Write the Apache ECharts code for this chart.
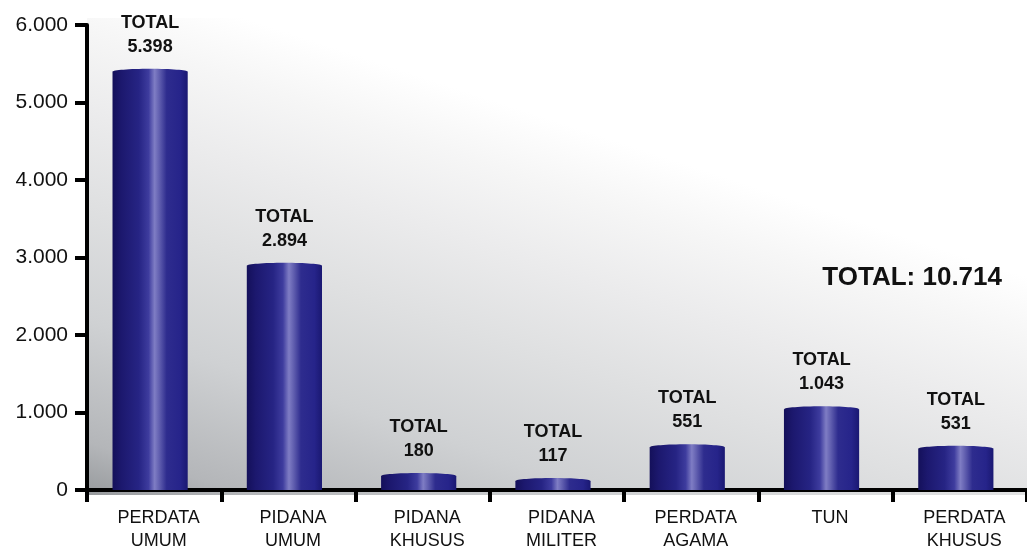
<!DOCTYPE html>
<html>
<head>
<meta charset="utf-8">
<script src="https://cdn.jsdelivr.net/npm/echarts@6/dist/echarts.min.js"></script>
<style>
  html, body { margin: 0; padding: 0; background: #ffffff; }
  #chart { width: 1027px; height: 553px; }
</style>
</head>
<body>
<div id="chart"></div>
<script>
// Case categories and their totals
const categories = [
  'PERDATA\nUMUM',
  'PIDANA\nUMUM',
  'PIDANA\nKHUSUS',
  'PIDANA\nMILITER',
  'PERDATA\nAGAMA',
  'TUN',
  'PERDATA\nKHUSUS'
];
const totals = [5398, 2894, 180, 117, 551, 1043, 531];

// Value axis range
const yMin = 0;
const yMax = 6000;
const yStep = 1000;

const FONT = '"Liberation Sans", Arial, Helvetica, sans-serif';

// Indonesian number style: dot as thousands separator
function fmt(v) {
  return String(Math.round(v)).replace(/\B(?=(\d{3})+(?!\d))/g, '.');
}

const grandTotal = totals.reduce((a, b) => a + b, 0);

const GRID = { left: 87, right: 0, top: 25, bottom: 58 };

// Cylinder shading across the bar width
function cylinderFill() {
  return new echarts.graphic.LinearGradient(0, 0, 1, 0, [
    { offset: 0.00, color: '#14105a' },
    { offset: 0.12, color: '#1c186e' },
    { offset: 0.35, color: '#262484' },
    { offset: 0.48, color: '#3e3c9e' },
    { offset: 0.56, color: '#7f7dc4' },
    { offset: 0.62, color: '#6260b0' },
    { offset: 0.72, color: '#2e2c8e' },
    { offset: 0.90, color: '#26248a' },
    { offset: 1.00, color: '#1a1872' }
  ]);
}

function renderCylinder(params, api) {
  const idx = api.value(0);
  const val = api.value(1);
  const top = api.coord([idx, val]);
  const base = api.coord([idx, 0]);
  const band = api.size([1, 0])[0];
  const w = band * 0.56;
  const cx = top[0] - band * 0.03;
  const x = cx - w / 2;
  return {
    type: 'group',
    children: [
      {
        type: 'rect',
        shape: { x: x, y: top[1], width: w, height: base[1] - top[1] },
        style: { fill: cylinderFill() }
      },
      {
        type: 'ellipse',
        shape: { cx: cx, cy: top[1], rx: w / 2, ry: 3 },
        style: { fill: cylinderFill() }
      },
      {
        type: 'text',
        style: {
          text: 'TOTAL\n' + fmt(val),
          x: cx,
          y: top[1] - 13,
          align: 'center',
          verticalAlign: 'bottom',
          textAlign: 'center',
          textVerticalAlign: 'bottom',
          font: 'bold 18px ' + FONT,
          lineHeight: 24,
          fill: '#111111'
        }
      }
    ]
  };
}

const chart = echarts.init(document.getElementById('chart'), null, { renderer: 'canvas' });

chart.setOption({
  backgroundColor: '#ffffff',
  animation: false,
  grid: GRID,
  graphic: [
    {
      type: 'rect',
      z: -10,
      silent: true,
      shape: { x: GRID.left, y: 18, width: 1027 - GRID.left, height: 553 - GRID.bottom - 18 },
      style: {
        fill: new echarts.graphic.LinearGradient(0, 1, 0.168, 0, [
          { offset: 0.00, color: '#979a9d' },
          { offset: 0.10, color: '#b4b6b9' },
          { offset: 0.33, color: '#cfd1d3' },
          { offset: 0.55, color: '#dfe0e1' },
          { offset: 0.72, color: '#ebebec' },
          { offset: 0.88, color: '#f6f6f6' },
          { offset: 1.00, color: '#ffffff' }
        ])
      }
    },
    {
      type: 'text',
      right: 25,
      top: 265,
      style: {
        text: 'TOTAL: ' + fmt(grandTotal),
        font: 'bold 26px ' + FONT,
        fill: '#111111'
      }
    }
  ],
  xAxis: {
    type: 'category',
    data: categories,
    boundaryGap: true,
    axisLine: { show: true, lineStyle: { color: '#000000', width: 4 } },
    axisTick: { show: true, alignWithLabel: false, length: 12, lineStyle: { color: '#000000', width: 4 } },
    axisLabel: {
      interval: 0,
      margin: 17,
      fontFamily: FONT,
      fontSize: 18,
      lineHeight: 23,
      color: '#111111',
      padding: [0, 0, 0, 9]
    },
    splitLine: { show: false }
  },
  yAxis: {
    type: 'value',
    min: yMin,
    max: yMax,
    interval: yStep,
    axisLine: { show: true, lineStyle: { color: '#000000', width: 4 } },
    axisTick: { show: true, length: 12, lineStyle: { color: '#000000', width: 4 } },
    axisLabel: {
      margin: 19,
      fontFamily: FONT,
      fontSize: 21,
      color: '#111111',
      formatter: function (v) { return fmt(v); }
    },
    splitLine: { show: false }
  },
  series: [
    {
      type: 'custom',
      renderItem: renderCylinder,
      encode: { x: 0, y: 1 },
      data: totals.map((v, i) => [i, v]),
      clip: false,
      z: 3
    }
  ]
});
</script>
</body>
</html>
